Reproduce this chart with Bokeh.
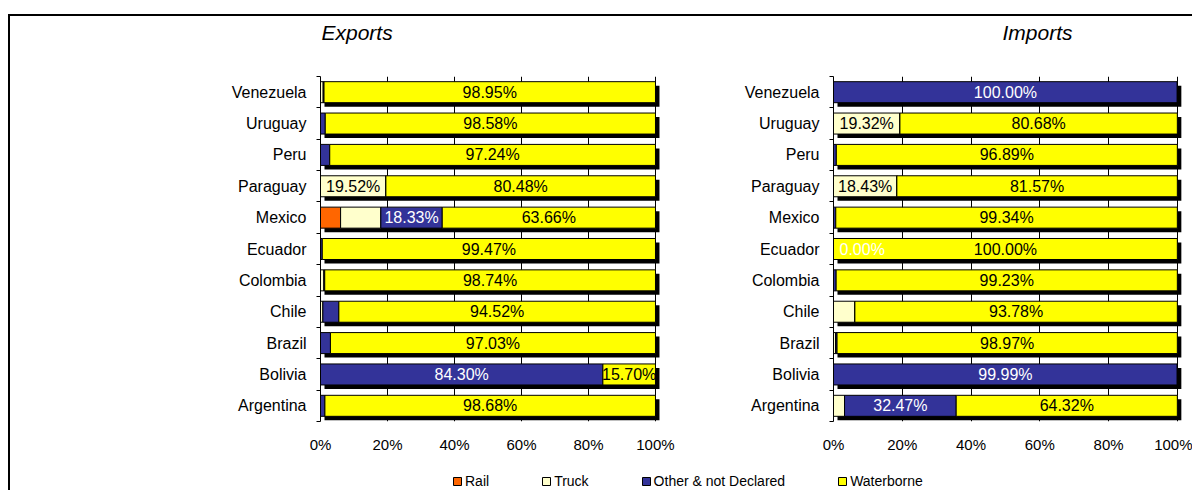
from bokeh.plotting import figure
from bokeh.models import (Range1d, FixedTicker, NumeralTickFormatter, Legend, LegendItem,
                          ColumnDataSource, Title)
from bokeh.layouts import column, row
from bokeh.embed import file_html
from bokeh.resources import INLINE
from bokeh.core.properties import value

# ---------------- data ----------------
countries = ["Argentina", "Bolivia", "Brazil", "Chile", "Colombia", "Ecuador",
             "Mexico", "Paraguay", "Peru", "Uruguay", "Venezuela"]
modes = ["Rail", "Truck", "Other & not Declared", "Waterborne"]
colors = ["#FF6600", "#FFFFCC", "#333399", "#FFFF00"]
label_colors = ["black", "black", "white", "black"]

exp_rail = [0, 0, 0, 0, 0, 0, 6.00, 0, 0, 0, 0]
exp_truck = [0, 0, 0, 0.70, 1.00, 0, 12.01, 19.52, 0, 0, 0.80]
exp_other = [1.32, 84.30, 2.97, 4.78, 0.26, 0.53, 18.33, 0, 2.76, 1.42, 0.25]
exp_water = [98.68, 15.70, 97.03, 94.52, 98.74, 99.47, 63.66, 80.48, 97.24, 98.58, 98.95]

imp_rail = [0, 0, 0, 0, 0, 0, 0, 0, 0, 0, 0]
imp_truck = [3.21, 0, 0.60, 6.22, 0, 0, 0, 18.43, 0, 19.32, 0]
imp_other = [32.47, 99.99, 0.43, 0, 0.77, 0.00, 0.66, 0, 0.80, 0, 100.00]
imp_water = [64.32, 0.01, 98.97, 93.78, 99.23, 100.00, 99.34, 81.57, 96.89, 80.68, 0]

# zero-valued segments that still carry a label in the original
imp_zero_labels = [("Ecuador", 2)]

x_ticks = [0, 0.2, 0.4, 0.6, 0.8, 1.0]

FONT = "Liberation Sans"
BAR_H = 0.67
X_END = 1.015


def make_panel(title, series, zero_labels, frame_w, min_left, min_right, title_offset):
    n = len(countries)
    px_per_unit = frame_w / X_END
    dx = 4.0 / px_per_unit
    dy = 4.0 / (345.0 / n)

    p = figure(frame_width=frame_w, frame_height=345,
               min_border_left=min_left, min_border_right=min_right,
               min_border_top=60, min_border_bottom=45,
               x_range=Range1d(0, X_END), y_range=Range1d(-0.5, n - 0.5),
               output_backend="svg", toolbar_location=None)
    p.outline_line_color = None
    p.background_fill_color = "white"
    p.border_fill_color = "white"

    # spacer between frame and title
    p.add_layout(Title(text=" ", text_font_size="1px", standoff=30), "above")
    p.add_layout(Title(text=title, text_font=FONT, text_font_style="italic",
                       text_font_size="21px", align="left", offset=title_offset,
                       standoff=0, text_color="black"), "above")

    # grid
    p.ygrid.grid_line_color = None
    p.xgrid.ticker = FixedTicker(ticks=x_ticks)
    p.xgrid.grid_line_color = "black"
    p.xgrid.grid_line_width = 1

    ys = list(range(n))
    totals = [sum(s[i] for s in series) for i in range(n)]

    # shadow
    p.quad(left=[dx] * n, right=[1 + dx] * n,
           top=[y + BAR_H / 2 - dy for y in ys], bottom=[y - BAR_H / 2 - dy for y in ys],
           fill_color="black", line_color=None)

    cum = [0.0] * n
    lx, ly, lt, lc, lalign, loff = [], [], [], [], [], []
    zl = {(countries.index(c), k) for c, k in zero_labels}
    for k, s in enumerate(series):
        left = [cum[i] for i in range(n)]
        right = [cum[i] + s[i] / totals[i] for i in range(n)]
        p.quad(left=left, right=right,
               top=[y + BAR_H / 2 for y in ys], bottom=[y - BAR_H / 2 for y in ys],
               fill_color=colors[k], line_color="black", line_width=1)
        for i in range(n):
            if s[i] >= 15 or (i, k) in zl:
                if s[i] == 0:
                    lx.append(left[i]); lalign.append("left"); loff.append(6)
                else:
                    lx.append((left[i] + right[i]) / 2); lalign.append("center"); loff.append(0)
                ly.append(ys[i]); lt.append("%.2f%%" % s[i]); lc.append(label_colors[k])
        cum = right

    src = ColumnDataSource(dict(x=lx, y=ly, t=lt, c=lc, a=lalign, o=loff))
    p.text(x="x", y="y", text="t", text_color="c", text_align="a", x_offset="o",
           text_baseline="middle", text_font=value(FONT), text_font_size="16px", source=src)

    # x axis
    xa = p.xaxis[0]
    xa.ticker = FixedTicker(ticks=x_ticks)
    xa.formatter = NumeralTickFormatter(format="0%")
    xa.axis_line_color = None
    xa.major_tick_line_color = None
    xa.minor_tick_line_color = None
    xa.major_label_text_font = FONT
    xa.major_label_text_font_size = "15px"
    xa.major_label_text_color = "black"
    xa.major_label_standoff = 8

    # y axis
    ya = p.yaxis[0]
    ya.ticker = FixedTicker(ticks=ys, minor_ticks=[y - 0.5 for y in range(n + 1)])
    ya.major_label_overrides = {y: countries[y] for y in ys}
    ya.axis_line_color = "black"
    ya.axis_line_width = 1
    ya.major_tick_line_color = None
    ya.major_tick_out = 0
    ya.major_tick_in = 0
    ya.minor_tick_line_color = "black"
    ya.minor_tick_out = 4
    ya.minor_tick_in = 0
    ya.major_label_text_font = FONT
    ya.major_label_text_font_size = "16px"
    ya.major_label_text_color = "black"
    ya.major_label_standoff = 10
    return p


pe = make_panel("Exports", [exp_rail, exp_truck, exp_other, exp_water], [],
                340, 310, 30, 1)
pi = make_panel("Imports", [imp_rail, imp_truck, imp_other, imp_water], imp_zero_labels,
                349, 143, 10, 169)

# legend strip
pl = figure(width=1182, height=24, min_border=0, x_range=Range1d(0, 1), y_range=Range1d(0, 1),
            x_axis_type=None, y_axis_type=None, output_backend="svg", toolbar_location=None)
pl.outline_line_color = None
pl.xgrid.visible = False
pl.ygrid.visible = False
items = []
for m, c in zip(modes, colors):
    # legend swatches only: placed outside the visible range
    r = pl.quad(left=[5], right=[6], top=[5], bottom=[4], fill_color=c,
                line_color="black", line_width=1)
    items.append(LegendItem(label=m, renderers=[r]))
leg = Legend(items=items, orientation="horizontal", location=(442, 1), spacing=52,
             padding=0, margin=0, border_line_color=None, background_fill_alpha=0,
             label_text_font=FONT, label_text_font_size="14px", label_text_color="black",
             label_standoff=3, glyph_width=10, glyph_height=10, label_height=14)
pl.add_layout(leg)

layout = column(row(pe, pi), pl,
                styles={"border-top": "2px solid black", "border-left": "2px solid black",
                        "margin-top": "14px", "margin-left": "8px"})

open("out.html", "w").write(file_html(layout, INLINE))
